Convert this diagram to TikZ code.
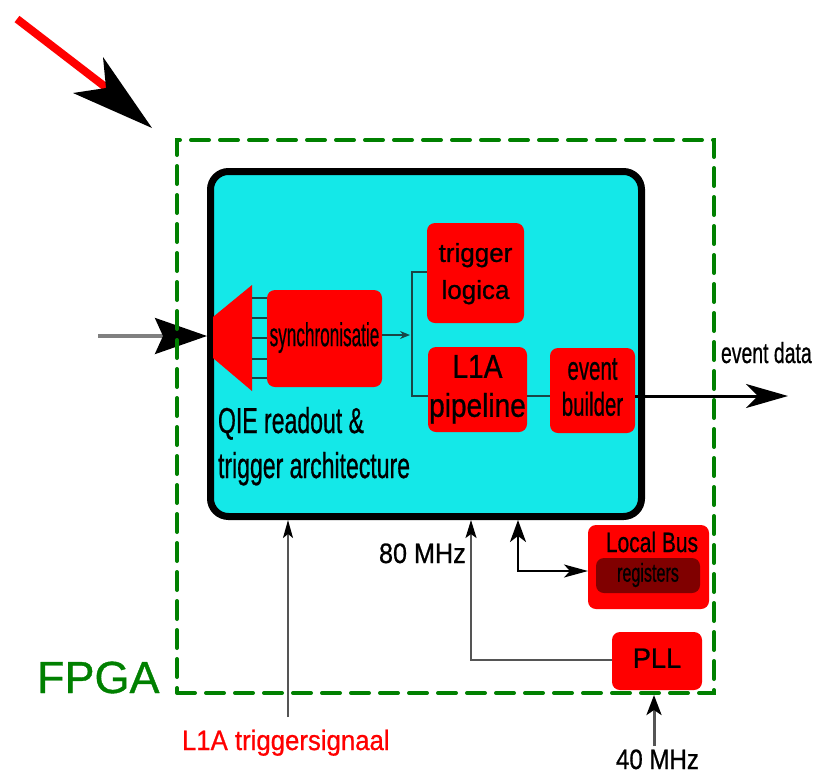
\documentclass[tikz,border=0pt]{standalone}
\usepackage{fontspec}
\setmainfont{Liberation Sans}[FakeBold=0.8]
\usetikzlibrary{arrows.meta}
\definecolor{cyanbg}{RGB}{20,232,232}
\definecolor{fgreen}{RGB}{0,128,0}
\definecolor{dred}{RGB}{128,0,0}
\definecolor{lgray}{RGB}{128,128,128}
\definecolor{dgray}{RGB}{85,85,85}
\definecolor{dkteal}{RGB}{25,70,70}
\newcommand\tx[5][c]{\scalebox{#2}[1]{\fontsize{#3}{#4}\selectfont\begin{tabular}{@{}#1@{}}#5\end{tabular}}}
\newcommand\ts[3]{\scalebox{#1}[1]{\fontsize{#2}{#2}\selectfont #3}}
\begin{document}
\begin{tikzpicture}[x=1pt,y=-1pt,
  rbox/.style={fill=red, draw=none, inner sep=0pt, outer sep=0pt, rounded corners=8pt},
  fpgabox/.style={draw=fgreen, line width=4pt, dash pattern=on 18pt off 11pt, line cap=round, minimum width=537pt, minimum height=553pt, inner sep=0pt},
  qiebox/.style={draw=black, fill=cyanbg, line width=7pt, rounded corners=18pt, minimum width=431pt, minimum height=345pt, inner sep=0pt},
  lbl/.style={inner sep=0pt, outer sep=0pt},
  thin/.style={dkteal, line width=1.5pt}
]
\useasboundingbox (0,0) rectangle (824,774);

% red incoming arrow (top left)
\coordinate (ra0) at (17,19);
\coordinate (ra1) at (108,89);
\draw[red, line width=8pt] (ra0) -- (ra1);
\fill[black] (152,128) -- (103,57) -- (106,88) -- (73,93) -- cycle;

% main cyan block
\node[qiebox] (qie) at (426,344) {};

% input arrow
\coordinate (in) at (98,336);
\draw[lgray, line width=3.5pt, -{Stealth[length=52pt,width=36pt,inset=8pt,color=black]}] (in) -- (in -| qie.west);

% trapezoid
\fill[red] (213,317) -- (252,285) -- (252,391) -- (213,358) -- cycle;

% boxes
\node[rbox, minimum width=115pt, minimum height=97pt] (sync) at (324.5,338.5) {\tx{0.52}{33}{38}{synchronisatie}};
\node[rbox, minimum width=97pt, minimum height=100pt] (trig) at (475.5,273) {\tx{1}{26}{37}{trigger\\logica}};
\node[rbox, minimum width=99pt, minimum height=85pt] (l1a) at (477.5,389.5) {\tx{0.85}{33}{39}{L1A\\pipeline}};
\node[rbox, minimum width=85pt, minimum height=85pt] (eb) at (592.5,390.5) {\tx{0.62}{33}{36}{event\\builder}};
\node[rbox, minimum width=121pt, minimum height=84pt] (lbus) at (648.5,567) {};
\node[rbox, fill=dred, minimum width=104pt, minimum height=35pt] (regs) at (648,575.5) {\tx{0.62}{26}{31}{registers}};
\node[rbox, minimum width=90pt, minimum height=58pt] (pll) at (657,661) {\tx{0.97}{28}{34}{PLL}};

% small lines trapezoid -> sync
\foreach \yy in {298,318,338,359,378} \draw[thin] (252,\yy) -- (sync.west |- 0,\yy);

% sync -> split
\coordinate (split) at (412,335);
\coordinate (rowT) at (412,272);
\coordinate (rowB) at (412,396);
\draw[thin, -{Stealth[length=10pt,width=8pt]}] (sync.east |- split) -- ([xshift=-2pt]split);
\draw[thin] (trig.west |- rowT) -| (rowB) -- (l1a.west |- rowB);
\draw[thin] (l1a.east |- rowB) -- (eb.west |- rowB);

% output
\coordinate (evout) at (788,396);
\draw[black, line width=3pt, -{Stealth[length=42pt,width=24pt,inset=12pt]}] (eb.east |- rowB) -- (evout);

% local bus double arrow
\coordinate (lbx) at (518,571);
\draw[black, line width=2pt, {Stealth[length=22pt,width=16pt,inset=6pt]}-{Stealth[length=24pt,width=13pt,inset=6pt]}] (qie.south -| lbx) |- (lbus.west |- lbx);

% 80 MHz
\coordinate (c80) at (471,660);
\draw[dgray, line width=2pt, -{Stealth[length=18pt,width=11pt,inset=4pt,color=black]}] (pll.west |- c80) -| (qie.south -| c80);

% FPGA dashed box
\node[fpgabox] (fpga) at (445.5,416.5) {};

% 40 MHz
\coordinate (c40) at (654,746);
\draw[dgray, line width=3pt, -{Stealth[length=20pt,width=15pt,inset=5pt,color=black]}] (c40) -- (c40 |- fpga.south);

% L1A trigger signal
\coordinate (ctr) at (288,717);
\draw[dgray, line width=1.5pt, -{Stealth[length=18pt,width=10pt,inset=4pt,color=black]}] (ctr) -- (ctr |- qie.south);

% texts
\node[lbl, anchor=north west] (qietxt) at (218,401.5) {\tx[l]{0.64}{36}{45}{QIE readout \&\\trigger architecture}};
\node[lbl, anchor=base west] (evd) at (721,363) {\ts{0.67}{29}{event data}};
\node[lbl, anchor=base west, text=red] (l1trig) at (182,750) {\ts{0.92}{28}{L1A triggersignaal}};
\node[lbl, anchor=base west] (m80) at (379,563) {\ts{0.9}{28}{80 MHz}};
\node[lbl, anchor=base west] (m40) at (616,769) {\ts{0.86}{28}{40 MHz}};
\node[lbl, anchor=base west, text=fgreen] (fpgatxt) at (37,693) {\fontsize{45}{45}\selectfont FPGA};
\node[lbl, anchor=base] (lbtxt) at (652,552) {\ts{0.75}{28}{Local Bus}};
\end{tikzpicture}
\end{document}
